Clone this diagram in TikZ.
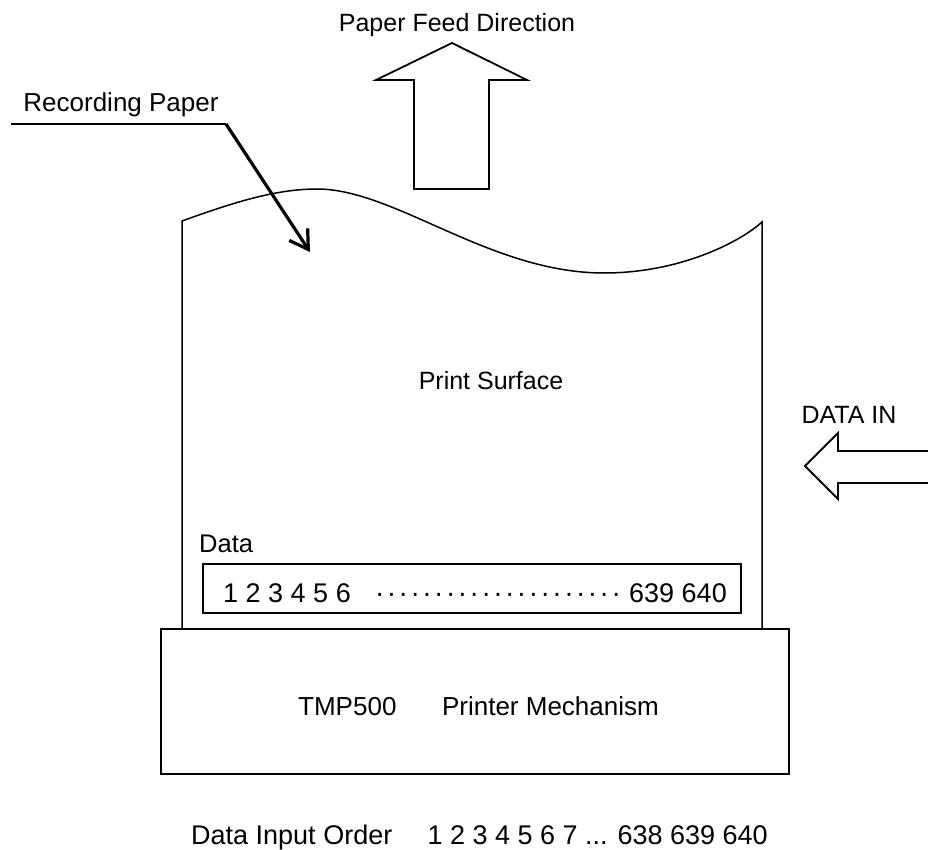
\documentclass[tikz,border=0pt]{standalone}
\usepackage{fontspec}
\setmainfont{Liberation Sans}
\usetikzlibrary{arrows.meta}
\newcommand\fsz[1]{\fontsize{#1}{#1}\selectfont}
\begin{document}
\begin{tikzpicture}[x=1pt,y=-1pt,
  paperline/.style={draw=black, line width=1.5pt, line join=miter},
  boxline/.style={draw=black, line width=1.8pt},
  blockarrow/.style={draw=black, line width=1.8pt, line join=miter},
  lbl/.style={inner sep=0pt, anchor=base},
  lblw/.style={inner sep=0pt, anchor=base west},
  lble/.style={inner sep=0pt, anchor=base east},
  pointer/.style={line width=3.2pt, -{Straight Barb[length=18pt,width=22pt,line width=3.2pt]}}]
\useasboundingbox (0,0) rectangle (928,850);

% recording paper outline
\draw[paperline] (182,629) -- (182,221)
  .. controls (232,203) and (275,189) .. (317,189)
  .. controls (395,189) and (490,273) .. (604,273)
  .. controls (680,273) and (740,242) .. (762,222)
  -- (762,629);

% paper feed direction arrow
\draw[blockarrow] (414,189) -- (414,80) -- (376,80) -- (452,43) -- (527,80)
  -- (489,80) -- (489,189) -- cycle;
\node[lbl, font=\fsz{25}] (feedlbl) at (457,32) {Paper Feed Direction};

% recording paper label and pointer
\node[lbl, font=\fsz{26}] (reclbl) at (121,112) {Recording Paper};
\coordinate (recL) at (11,124);
\coordinate (recR) at (226,124);
\coordinate (recTip) at (310,252);
\draw[line width=1.4pt] (recL) -- (recR);
\draw[pointer] (recR) -- (recTip);

% print surface
\node[lbl, font=\fsz{25}] (surface) at (491,389) {Print Surface};

% DATA IN arrow
\node[lbl, font=\fsz{25}] (datain) at (849,423) {DATA IN};
\draw[blockarrow] (928,451) -- (838,451) -- (838,433) -- (805,466) -- (838,499)
  -- (838,483) -- (928,483);

% data box
\node[lblw, font=\fsz{25.5}] (datalbl) at (199,552) {Data};
\node[boxline, minimum width=538pt, minimum height=49pt, inner sep=0pt] (databox) at (472,588.5) {};
\node[lblw, font=\fsz{27}] (first) at (223,602) {1 2 3 4 5 6};
\node[lbl, font=\fsz{28}] (dots) at (498,602) {\foreach \i in {1,...,20}{·\hspace{2.5pt}}·};
\node[lble, font=\fsz{27}] (last) at (727,602) {639 640};

% printer mechanism
\node[boxline, minimum width=628pt, minimum height=145pt, inner sep=0pt, fill=white] (mech) at (475,701.5) {};
\node[lblw, font=\fsz{26}] (tmp) at (298,715) {TMP500};
\node[lble, font=\fsz{26}] (mechlbl) at (659,715) {Printer Mechanism};

% input order
\node[lblw, font=\fsz{27}] (order) at (191,844) {Data Input Order};
\node[lble, font=\fsz{27}] (orderseq) at (768,844) {1 2 3 4 5 6 7 ... 638 639 640};
\end{tikzpicture}
\end{document}
